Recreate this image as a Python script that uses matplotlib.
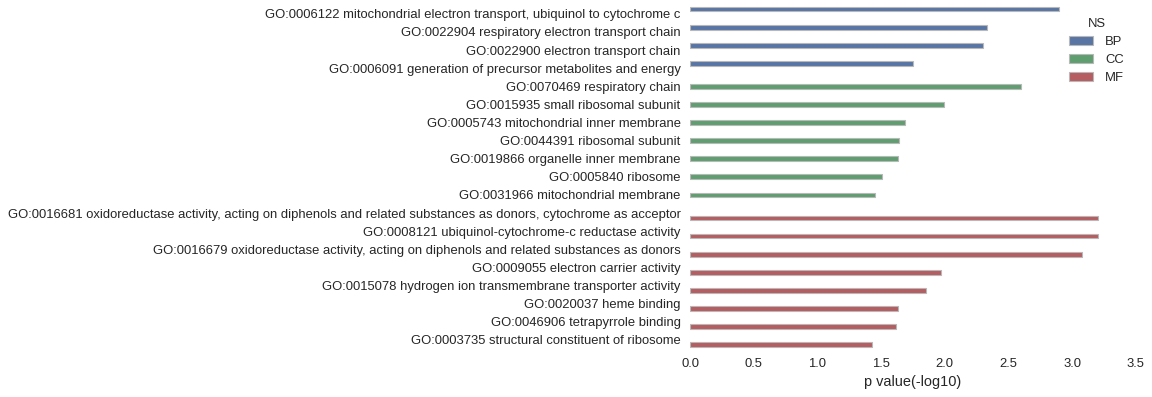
import matplotlib
matplotlib.use("Agg")
import matplotlib.pyplot as plt
from matplotlib.patches import Patch
import numpy as np

# GO terms (top to bottom), their namespace and -log10 p values
terms = [
    "GO:0006122 mitochondrial electron transport, ubiquinol to cytochrome c",
    "GO:0022904 respiratory electron transport chain",
    "GO:0022900 electron transport chain",
    "GO:0006091 generation of precursor metabolites and energy",
    "GO:0070469 respiratory chain",
    "GO:0015935 small ribosomal subunit",
    "GO:0005743 mitochondrial inner membrane",
    "GO:0044391 ribosomal subunit",
    "GO:0019866 organelle inner membrane",
    "GO:0005840 ribosome",
    "GO:0031966 mitochondrial membrane",
    "GO:0016681 oxidoreductase activity, acting on diphenols and related substances as donors, cytochrome as acceptor",
    "GO:0008121 ubiquinol-cytochrome-c reductase activity",
    "GO:0016679 oxidoreductase activity, acting on diphenols and related substances as donors",
    "GO:0009055 electron carrier activity",
    "GO:0015078 hydrogen ion transmembrane transporter activity",
    "GO:0020037 heme binding",
    "GO:0046906 tetrapyrrole binding",
    "GO:0003735 structural constituent of ribosome",
]
ns = ["BP"] * 4 + ["CC"] * 7 + ["MF"] * 8
pvals = [2.90, 2.33, 2.30, 1.75,
         2.60, 1.99, 1.69, 1.64, 1.63, 1.51, 1.45,
         3.20, 3.20, 3.08, 1.97, 1.85, 1.63, 1.62, 1.43]
hue_order = ["BP", "CC", "MF"]

colors = {"BP": "#5975a4", "CC": "#5f9e6e", "MF": "#b55d60"}

plt.rcParams["font.family"] = ["Liberation Sans", "DejaVu Sans"]
text_col = "#262626"

fig = plt.figure(figsize=(14.4, 4.9625), dpi=80)
ax = fig.add_axes([0.599, 0.121, 0.387, 0.867])

# hue-dodged bars like seaborn: 3 slots per category
width = 0.8 / len(hue_order)
y = np.arange(len(terms))
for i, h in enumerate(hue_order):
    offset = -0.4 + width * (i + 0.5)
    idx = [k for k in range(len(terms)) if ns[k] == h]
    ax.barh(y[idx] + offset, [pvals[k] for k in idx], height=width,
            color=colors[h], edgecolor="#b8b8b8", linewidth=1.0)

ax.set_yticks(y)
ax.set_yticklabels(terms)
ax.set_ylim(len(terms) - 0.5, -0.5)
ax.set_xlim(0, 3.5)
ax.set_xticks(np.arange(0, 3.51, 0.5))
ax.tick_params(axis="both", length=0, labelsize=11.7, labelcolor=text_col)
ax.tick_params(axis="y", pad=8.5)
ax.tick_params(axis="x", pad=8)
ax.set_xlabel("p value(-log10)", fontsize=13, color=text_col, labelpad=4.5)
for s in ax.spines.values():
    s.set_visible(False)

handles = [Patch(facecolor=colors[h], edgecolor="#b8b8b8", label=h) for h in hue_order]
leg = ax.legend(handles=handles, title="NS", loc="upper right", frameon=False,
                fontsize=11.7, title_fontsize=11.7, bbox_to_anchor=(1.0, 0.995),
                handlelength=1.9, handletextpad=0.9, labelspacing=0.45)
for t in leg.get_texts():
    t.set_color(text_col)
leg.get_title().set_color(text_col)

fig.savefig("out.png", dpi=80)
